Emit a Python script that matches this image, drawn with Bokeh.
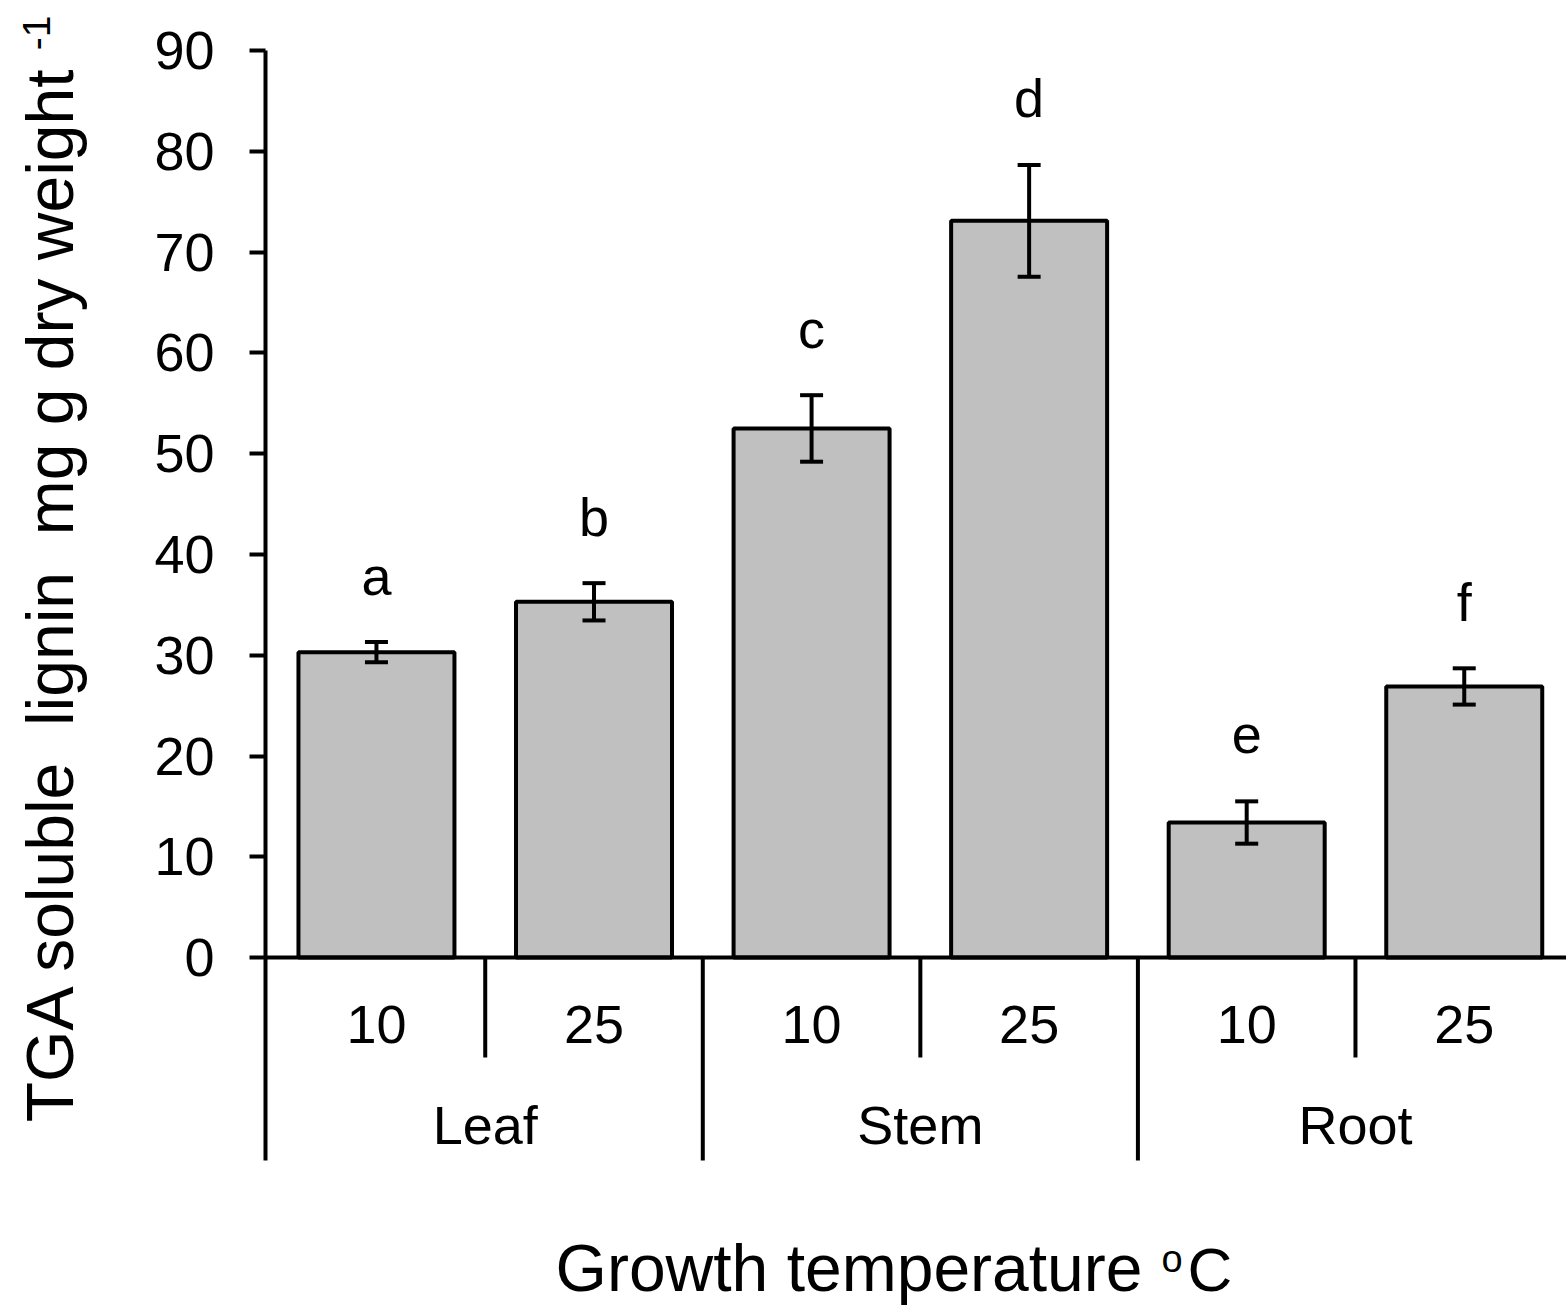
from bokeh.plotting import figure
from bokeh.models import (Range1d, LinearAxis, FixedTicker, ColumnDataSource,
                          Whisker, TeeHead, Span)
from bokeh.layouts import row
from bokeh.core.properties import value
from bokeh.embed import file_html
from bokeh.resources import INLINE
import math

# ---------------- data ----------------
tissues = ["Leaf", "Stem", "Root"]
temps = ["10", "25", "10", "25", "10", "25"]
means = [30.3, 35.3, 52.5, 73.1, 13.4, 26.9]
errors = [1.0, 1.85, 3.3, 5.55, 2.1, 1.8]
letters = ["a", "b", "c", "d", "e", "f"]
y_ticks = [0, 10, 20, 30, 40, 50, 60, 70, 80, 90]
y_title = "TGA soluble\u00a0\u00a0lignin\u00a0\u00a0mg g dry weight"
y_title_sup = "-1"
x_title = "Growth temperature"

FONT = "Liberation Sans"
W, H = 1566, 1307
LW = 150                 # width of the title strip on the left
LEFT = 265               # frame left edge on the canvas
PXU = 1257 / 124.72      # pixels per data unit (vertical)
X0, X1 = -0.01, 5.97
Y1 = 90.0 + 50 / PXU     # frame covers the full canvas height
Y0 = Y1 - H / PXU
MID = 0.3465             # em offset baseline -> middle

def px_x(px):
    return X0 + (px - LEFT) * (X1 - X0) / (W - LEFT)

def px_y(py):
    return Y1 - py / PXU

def mid(baseline_px, size):
    return baseline_px - MID * size

n = len(means)
xc = [i + 0.5 for i in range(n)]
lab_off = 6.6
src = ColumnDataSource(dict(
    x=xc, top=means,
    upper=[m + e for m, e in zip(means, errors)],
    lower=[m - e for m, e in zip(means, errors)],
    ly=[m + e + lab_off for m, e in zip(means, errors)],
    letter=letters, temp=temps,
))

# ---------------- left strip with the y title ----------------
t = figure(width=LW, height=H, x_range=Range1d(0, LW), y_range=Range1d(0, H),
           title=None, output_backend="svg", toolbar_location=None,
           x_axis_location=None, y_axis_location=None,
           min_border_left=0, min_border_right=0, min_border_top=0, min_border_bottom=0)
t.outline_line_color = None
t.xgrid.visible = False
t.ygrid.visible = False
YS = 66
t.text(x=[mid(72, YS)], y=[H - 593.5], text=[y_title], angle=math.pi / 2,
       text_align="center", text_baseline="middle", text_font=value(FONT),
       text_font_size=f"{YS}px", text_color="black")
t.text(x=[mid(50, 39)], y=[H - 32.5], text=[y_title_sup], angle=math.pi / 2,
       text_align="center", text_baseline="middle", text_font=value(FONT),
       text_font_size="39px", text_color="black")

# ---------------- main plot ----------------
p = figure(width=W - LW, height=H, x_range=Range1d(X0, X1), y_range=Range1d(Y0, Y1),
           title=None, output_backend="svg", toolbar_location=None,
           x_axis_location=None, y_axis_location=None,
           min_border_left=LEFT - LW, min_border_top=0,
           min_border_right=0, min_border_bottom=0)
p.outline_line_color = None
p.xgrid.visible = False
p.ygrid.visible = False

LWD = 4

yax = LinearAxis(ticker=FixedTicker(ticks=y_ticks), bounds=(px_y(1160), 90))
yax.axis_line_width = LWD
yax.axis_line_color = "black"
yax.major_tick_line_width = LWD
yax.major_tick_line_color = "black"
yax.major_tick_out = 16
yax.major_tick_in = 0
yax.minor_tick_out = 0
yax.minor_tick_in = 0
yax.major_label_text_font = FONT
yax.major_label_text_font_size = "54px"
yax.major_label_text_color = "black"
yax.major_label_standoff = 35
p.add_layout(yax, "left")

# bars
p.vbar(x="x", top="top", bottom=0, width=0.717, source=src,
       fill_color="#c0c0c0", line_color="black", line_width=LWD)

# error bars (drawn above the bars)
wh = Whisker(source=src, base="x", upper="upper", lower="lower",
             dimension="height", line_width=LWD, line_color="black", level="overlay",
             upper_head=TeeHead(size=23, line_width=LWD, line_color="black"),
             lower_head=TeeHead(size=23, line_width=LWD, line_color="black"))
p.add_layout(wh)

# x axis baseline
p.add_layout(Span(location=0, dimension="width", line_color="black", line_width=LWD))

# significance letters
p.text(x="x", y="ly", text="letter", source=src, text_align="center",
       text_baseline="middle", text_font=value(FONT),
       text_font_size="54px", text_color="black")

# temperature labels
p.text(x="x", y=px_y(mid(1043, 54)), text="temp", source=src, text_align="center",
       text_baseline="middle", text_font=value(FONT),
       text_font_size="54px", text_color="black")

# tissue labels
p.text(x=[1.0, 3.0, 5.0], y=[px_y(mid(1143, 54))] * 3, text=tissues, text_align="center",
       text_baseline="middle", text_font=value(FONT),
       text_font_size="54px", text_color="black")

# separators below the axis
short_x = [1.0, 3.0, 5.0]
long_x = [2.0, 4.0]
p.segment(x0=short_x, y0=[0] * 3, x1=short_x, y1=[px_y(1057)] * 3,
          line_color="black", line_width=LWD)
p.segment(x0=long_x, y0=[0] * 2, x1=long_x, y1=[px_y(1160)] * 2,
          line_color="black", line_width=LWD)

# x title
TS = 66
p.text(x=[px_x(1142)], y=[px_y(mid(1290, TS))], text=[x_title], text_align="right",
       text_baseline="middle", text_font=value(FONT), text_font_size=f"{TS}px",
       text_color="black")
p.text(x=[px_x(1161)], y=[px_y(mid(1272, 38))], text=["o"], text_align="left",
       text_baseline="middle", text_font=value(FONT), text_font_size="38px",
       text_color="black")
p.text(x=[px_x(1187)], y=[px_y(mid(1290, 62))], text=["C"], text_align="left",
       text_baseline="middle", text_font=value(FONT), text_font_size="62px",
       text_color="black")

layout = row(t, p, spacing=0)
open("out.html", "w").write(file_html(layout, INLINE))
